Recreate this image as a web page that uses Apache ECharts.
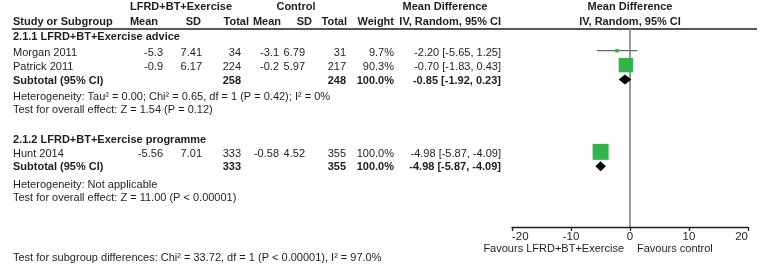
<!DOCTYPE html>
<html>
<head>
<meta charset="utf-8">
<script src="https://cdn.jsdelivr.net/npm/echarts@6/dist/echarts.min.js"></script>
<style>
  html, body { margin: 0; padding: 0; background: #fff; }
  #forest { width: 760px; height: 265px; }
</style>
</head>
<body>
<div id="forest"></div>
<script>
// study level data
var studies   = ['Morgan 2011', 'Patrick 2011', 'Hunt 2014'];
var studyRow  = [3, 4, 10];
var expMean   = ['-5.3', '-0.9', '-5.56'];
var expSD     = ['7.41', '6.17', '7.01'];
var expN      = [34, 224, 333];
var ctlMean   = ['-3.1', '-0.2', '-0.58'];
var ctlSD     = ['6.79', '5.97', '4.52'];
var ctlN      = [31, 217, 355];
var weights   = [9.7, 90.3, 100.0];
var md        = [-2.20, -0.70, -4.98];
var mdLo      = [-5.65, -1.83, -5.87];
var mdHi      = [1.25, 0.43, -4.09];

// subgroups
var groups     = ['2.1.1 LFRD+BT+Exercise advice', '2.1.2 LFRD+BT+Exercise programme'];
var subRow     = [5, 11];
var subExpN    = [258, 333];
var subCtlN    = [248, 355];
var subWeight  = [100.0, 100.0];
var subMd      = [-0.85, -4.98];
var subLo      = [-1.92, -5.87];
var subHi      = [0.23, -4.09];
var heterog    = ['Heterogeneity: Tau\u00b2 = 0.00; Chi\u00b2 = 0.65, df = 1 (P = 0.42); I\u00b2 = 0%',
                  'Heterogeneity: Not applicable'];
var overall    = ['Test for overall effect: Z = 1.54 (P = 0.12)',
                  'Test for overall effect: Z = 11.00 (P < 0.00001)'];
var subgroupTest = 'Test for subgroup differences: Chi\u00b2 = 33.72, df = 1 (P < 0.00001), I\u00b2 = 97.0%';
var xTicks = [-20, -10, 0, 10, 20];

// layout
var gridTop = 29, gridBottom = 38, yMin = 1.5, yMax = 15.2;
var rowH = (265 - gridTop - gridBottom) / (yMax - yMin);
function rowPx(r) { return gridTop + (r - yMin) * rowH; }
var FONT = '11px "Liberation Sans", Arial, sans-serif';
var BOLD = 'bold 11px "Liberation Sans", Arial, sans-serif';
var INK = '#1e1e1e';

var graphics = [];
function txt(s, x, y, align, bold) {
  graphics.push({
    type: 'text', silent: true,
    style: { text: s, x: x, y: y, textAlign: align || 'left', textVerticalAlign: 'middle', font: bold ? BOLD : FONT, fill: INK }
  });
}
function ci(m, l, h) { return m.toFixed(2) + ' [' + l.toFixed(2) + ', ' + h.toFixed(2) + ']'; }

// headers
var h1 = rowPx(0.01), h2 = rowPx(0.99);
txt('LFRD+BT+Exercise', 181, h1, 'center', true);
txt('Control', 296, h1, 'center', true);
txt('Mean Difference', 445, h1, 'center', true);
txt('Mean Difference', 630, h1, 'center', true);
txt('Study or Subgroup', 13, h2, 'left', true);
txt('Mean', 158, h2, 'right', true);
txt('SD', 201, h2, 'right', true);
txt('Total', 249, h2, 'right', true);
txt('Mean', 281, h2, 'right', true);
txt('SD', 312, h2, 'right', true);
txt('Total', 347, h2, 'right', true);
txt('Weight', 394, h2, 'right', true);
txt('IV, Random, 95% CI', 501, h2, 'right', true);
txt('IV, Random, 95% CI', 630, h2, 'center', true);
graphics.push({ type: 'line', silent: true, shape: { x1: 12, y1: gridTop, x2: 757, y2: gridTop }, style: { stroke: INK, lineWidth: 1.5 } });

// study rows
for (var i = 0; i < studies.length; i++) {
  var y = rowPx(studyRow[i]) + 1.8;
  txt(studies[i], 13, y);
  txt(expMean[i], 163, y, 'right');
  txt(expSD[i], 202, y, 'right');
  txt(String(expN[i]), 241, y, 'right');
  txt(ctlMean[i], 279, y, 'right');
  txt(ctlSD[i], 305, y, 'right');
  txt(String(ctlN[i]), 346, y, 'right');
  txt(weights[i].toFixed(1) + '%', 394, y, 'right');
  txt(ci(md[i], mdLo[i], mdHi[i]), 501, y, 'right');
}

// subgroup rows
var groupRow = [2.05, 9.2], hetRow = [6.2, 12.3], overallRow = [7.1, 13.2];
for (var g = 0; g < groups.length; g++) {
  txt(groups[g], 13, rowPx(groupRow[g]), 'left', true);
  var ys = rowPx(subRow[g]) + 1;
  txt('Subtotal (95% CI)', 13, ys, 'left', true);
  txt(String(subExpN[g]), 241, ys, 'right', true);
  txt(String(subCtlN[g]), 346, ys, 'right', true);
  txt(subWeight[g].toFixed(1) + '%', 394, ys, 'right', true);
  txt(ci(subMd[g], subLo[g], subHi[g]), 501, ys, 'right', true);
  txt(heterog[g], 13, rowPx(hetRow[g]));
  txt(overall[g], 13, rowPx(overallRow[g]));
}
txt(subgroupTest, 13, rowPx(17.37));
txt('Favours LFRD+BT+Exercise', 624, rowPx(16.74), 'right');
txt('Favours control', 637, rowPx(16.74), 'left');

var studyData = studies.map(function (s, k) {
  return [md[k], studyRow[k], mdLo[k], mdHi[k], weights[k]];
});
var subData = groups.map(function (s, k) {
  return [subMd[k], subRow[k], subLo[k], subHi[k]];
});

var myChart = echarts.init(document.getElementById('forest'), null, { renderer: 'canvas' });
var option = {
  backgroundColor: '#fff',
  animation: false,
  grid: { left: 512, right: 12, top: gridTop, bottom: gridBottom },
  xAxis: {
    type: 'value', min: xTicks[0], max: xTicks[xTicks.length - 1], interval: 10,
    axisLine: { show: true, lineStyle: { color: INK, width: 1.3 } },
    axisTick: { show: true, length: 4, lineStyle: { color: INK, width: 1.3 } },
    axisLabel: {
      color: INK, fontSize: 11.5, fontFamily: '"Liberation Sans", Arial, sans-serif', margin: 4,
      alignMinLabel: 'left', alignMaxLabel: 'right'
    },
    splitLine: { show: false }
  },
  yAxis: {
    type: 'value', inverse: true, min: yMin, max: yMax,
    axisLine: { show: true, onZero: true, lineStyle: { color: '#808080', width: 1.6 } },
    axisTick: { show: false }, axisLabel: { show: false }, splitLine: { show: false }
  },
  series: [
    {
      type: 'custom', name: 'studies', data: studyData,
      renderItem: function (params, api) {
        var c = api.coord([api.value(0), api.value(1)]);
        var a = api.coord([api.value(2), api.value(1)]);
        var b = api.coord([api.value(3), api.value(1)]);
        var sz = Math.max(3.5, 16 * api.value(4) / 100);
        return {
          type: 'group', children: [
            { type: 'line', shape: { x1: a[0], y1: a[1], x2: b[0], y2: b[1] }, style: { stroke: '#6a6a6a', lineWidth: 1.3 } },
            { type: 'rect', shape: { x: c[0] - sz / 2, y: c[1] - sz / 2, width: sz, height: sz }, style: { fill: '#33b34c' } }
          ]
        };
      }
    },
    {
      type: 'custom', name: 'subtotals', data: subData,
      renderItem: function (params, api) {
        var c = api.coord([api.value(0), api.value(1)]);
        var a = api.coord([api.value(2), api.value(1)]);
        var b = api.coord([api.value(3), api.value(1)]);
        var hh = 5;
        return {
          type: 'polygon',
          shape: { points: [[a[0], c[1]], [c[0], c[1] - hh], [b[0], c[1]], [c[0], c[1] + hh]] },
          style: { fill: '#000' }
        };
      }
    }
  ],
  graphic: graphics
};
myChart.setOption(option);
window.onresize = myChart.resize;
</script>
</body>
</html>
